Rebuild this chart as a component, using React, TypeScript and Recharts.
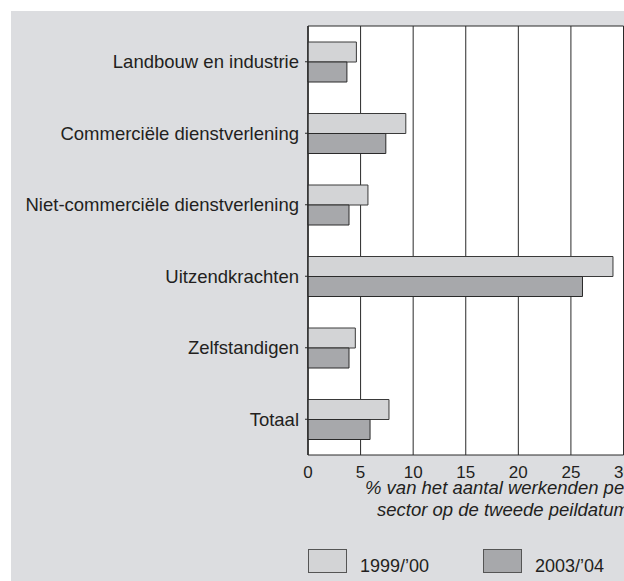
import { BarChart, Bar, XAxis, YAxis, CartesianGrid, ReferenceArea, Legend } from 'recharts';

const categories = [
  'Landbouw en industrie',
  'Commerciële dienstverlening',
  'Niet-commerciële dienstverlening',
  'Uitzendkrachten',
  'Zelfstandigen',
  'Totaal',
];
const values1999 = [4.6, 9.3, 5.7, 29.0, 4.5, 7.7];
const values2003 = [3.7, 7.4, 3.9, 26.1, 3.9, 5.9];
const xTicks = [0, 5, 10, 15, 20, 25, 30];
const seriesNames = ['1999/’00', '2003/’04'];
const axisTitle = ['% van het aantal werkenden per', 'sector op de tweede peildatum'];

const data = categories.map((name, i) => ({ name, a: values1999[i], b: values2003[i] }));

const FONT = '"Liberation Sans", Arial, Helvetica, sans-serif';
const TEXT = '#231f20';
const LIGHT = '#d3d4d6';
const DARK = '#a7a8ab';
const LINE = '#2a2a2a';

function AxisTitle(props: any) {
  const { x, y } = props.viewBox;
  return (
    <text fontFamily={FONT} fontSize={18.5} fontStyle="italic" fill={TEXT}>
      <tspan x={x + 57} y={y + 39}>{axisTitle[0]}</tspan>
      <tspan x={x + 69} y={y + 60.5}>{axisTitle[1]}</tspan>
    </text>
  );
}

function LegendBox() {
  const colors = [LIGHT, DARK];
  return (
    <div style={{ position: 'relative', width: 320, height: 26, fontFamily: FONT }}>
      {seriesNames.map((n, i) => (
        <div key={n} style={{ position: 'absolute', left: i * 175, top: 0 }}>
          <div
            style={{
              position: 'absolute',
              left: 0,
              top: 0,
              width: 37,
              height: 22,
              background: colors[i],
              border: '1px solid #555',
            }}
          />
          <span
            style={{
              position: 'absolute',
              left: 52,
              top: 8,
              fontSize: 18,
              lineHeight: '18px',
              color: TEXT,
              whiteSpace: 'nowrap',
            }}
          >
            {n}
          </span>
        </div>
      ))}
    </div>
  );
}

export default function App() {
  return (
    <div
      style={{
        position: 'absolute',
        left: 0,
        top: 0,
        width: 624,
        height: 581,
        overflow: 'hidden',
        background: '#fff',
      }}
    >
      <div style={{ position: 'absolute', left: 11, top: 11, right: 0, bottom: 0, background: '#dcdde0' }} />
      <div style={{ position: 'absolute', left: 0, top: 0 }}>
        <BarChart
          width={700}
          height={581}
          data={data}
          layout="vertical"
          margin={{ top: 26, right: 76.5, left: 0, bottom: 96 }}
          barSize={20}
          barGap={0}
        >
          <CartesianGrid horizontal={false} stroke={LINE} fill="#fff" />
          <XAxis
            type="number"
            domain={[0, 30]}
            ticks={xTicks}
            interval={0}
            height={30}
            axisLine={false}
            tickLine={false}
            tickSize={6}
            tickMargin={5}
            tick={{ fontFamily: FONT, fontSize: 17, fill: TEXT }}
            label={<AxisTitle />}
          />
          <YAxis
            type="category"
            dataKey="name"
            width={308}
            interval={0}
            tickSize={3}
            tickMargin={6}
            axisLine={{ stroke: LINE }}
            tickLine={{ stroke: LINE }}
            tick={{ fontFamily: FONT, fontSize: 18.5, fill: TEXT }}
          />
          <Bar dataKey="a" name={seriesNames[0]} fill={LIGHT} stroke="#3a3a3a" strokeWidth={1} isAnimationActive={false} />
          <Bar dataKey="b" name={seriesNames[1]} fill={DARK} stroke="#2a2a2a" strokeWidth={1} isAnimationActive={false} />
          <ReferenceArea x1={0} x2={30} fill="none" stroke={LINE} strokeWidth={1} ifOverflow="visible" />
          <Legend
            layout="vertical"
            align="center"
            verticalAlign="middle"
            content={<LegendBox />}
            wrapperStyle={{ position: 'absolute', left: 308, top: 549, width: 320 }}
          />
        </BarChart>
      </div>
    </div>
  );
}
